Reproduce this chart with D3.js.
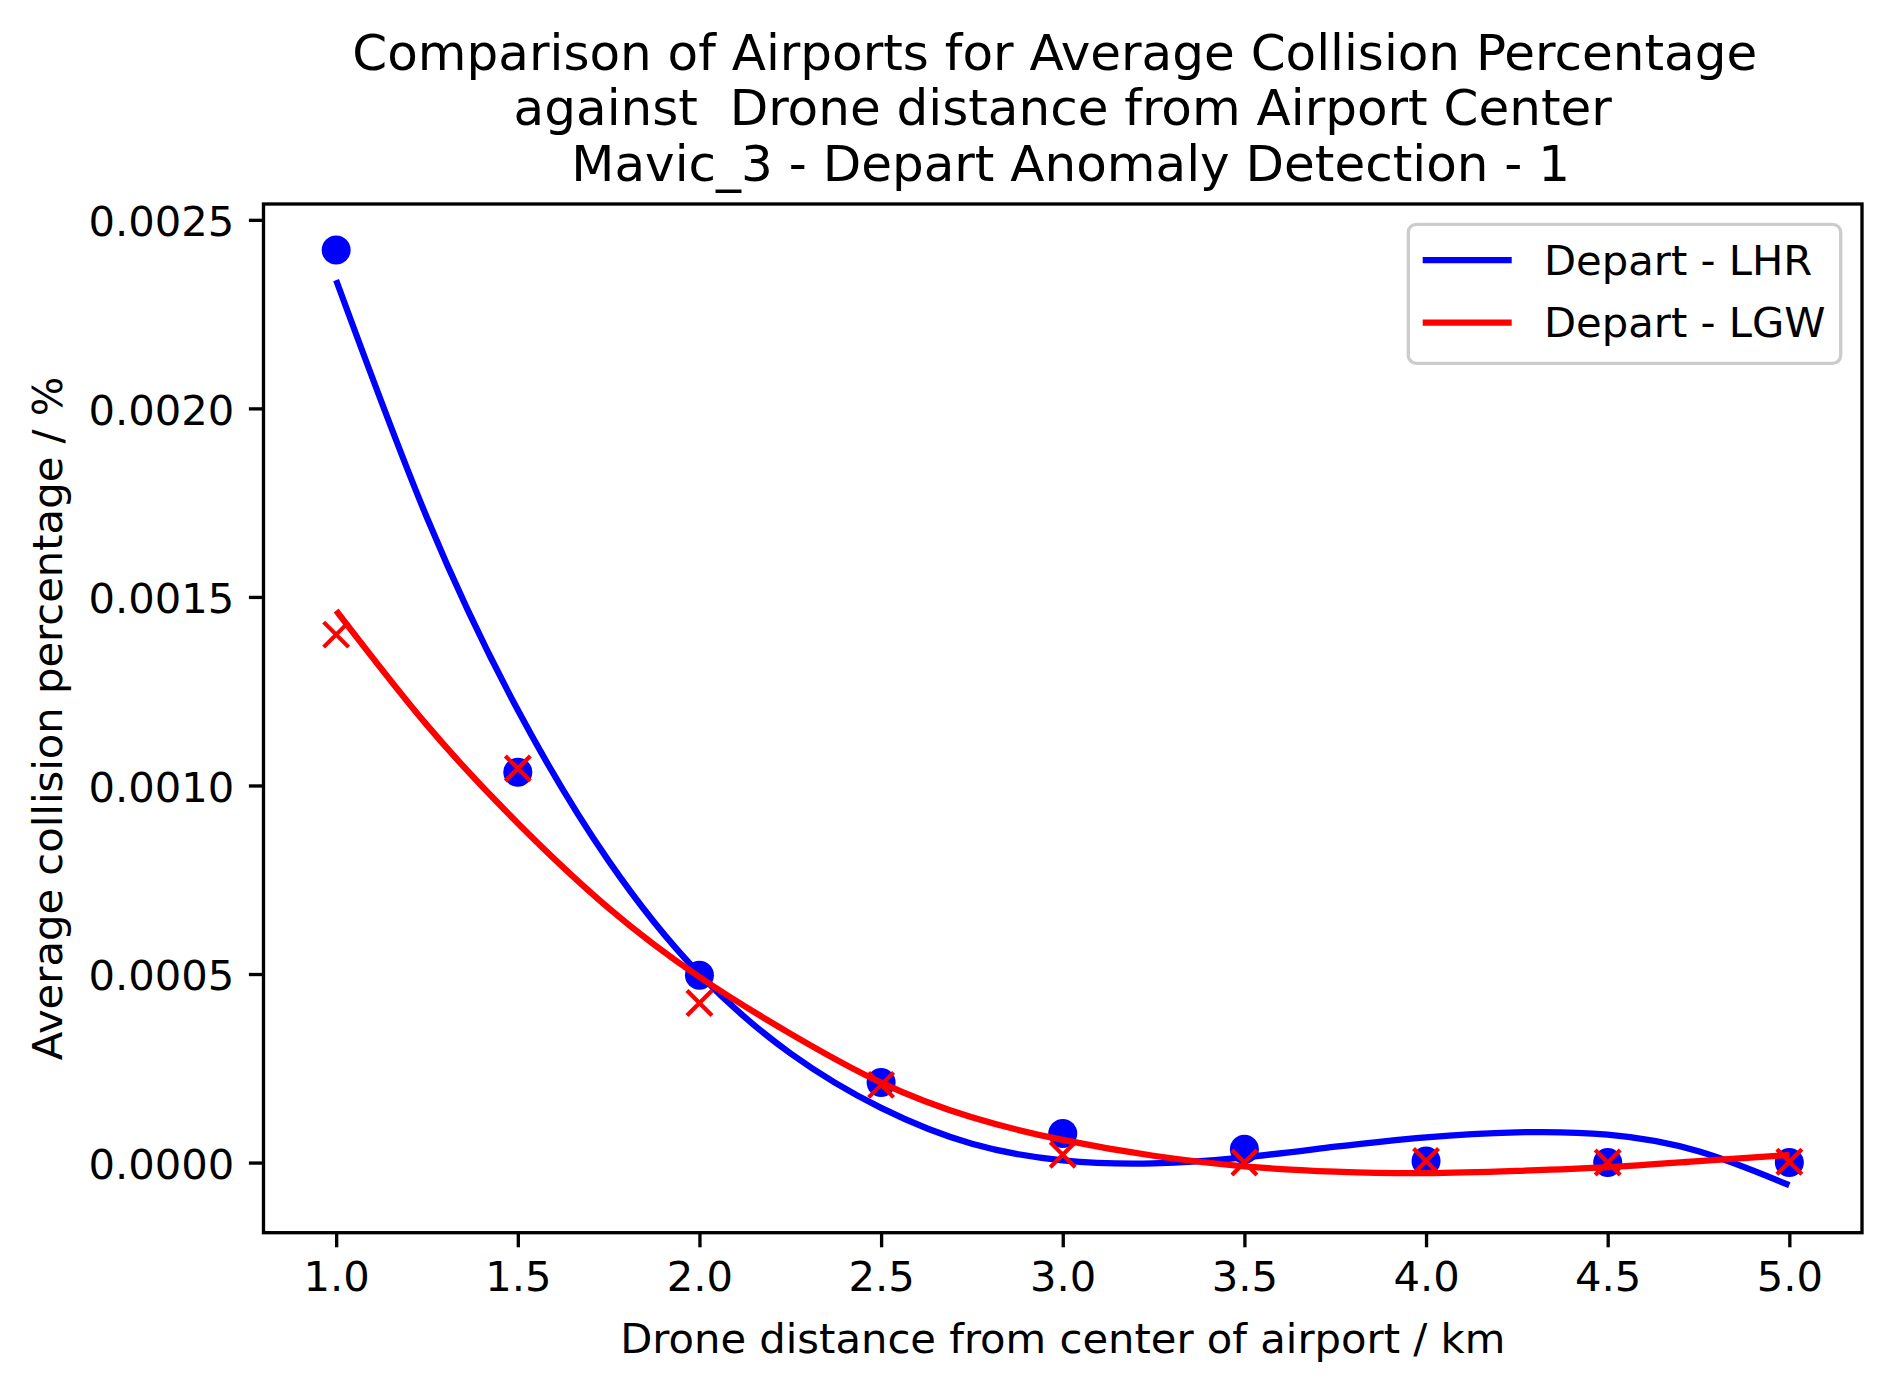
<!DOCTYPE html>
<html>
<head>
<meta charset="utf-8">
<script src="https://cdn.jsdelivr.net/npm/d3@7"></script>
<style>
  body { margin: 0; background: white; }
  text { font-family: 'DejaVu Sans', sans-serif; }
</style>
</head>
<body>
<svg id="app" width="1890" height="1392"></svg>
<script>
// measured points
const distances = [1.0, 1.5, 2.0, 2.5, 3.0, 3.5, 4.0, 4.5, 5.0]
const lhrPoints = [0.00242, 0.001035, 0.000497, 0.000212, 0.000077, 0.000035, 0.000004, 0.0, 0.0]
const lgwPoints = [0.00140, 0.001045, 0.000423, 0.000206, 0.000021, 0.0, 0.000004, 0.0, 0.000002]

// fitted curves, every 0.25 km
const fitDistances = [1.0, 1.25, 1.5, 1.75, 2.0, 2.25, 2.5, 2.75, 3.0, 3.25, 3.5, 3.75, 4.0, 4.25, 4.5, 4.75, 5.0]
const lhrFit = [0.00234, 0.00171, 0.00120, 0.00080, 0.00050, 0.00029, 0.000145, 0.00005, 0.000006, -0.000002, 0.000014, 0.000042, 0.000067, 0.00008, 0.000074, 0.00003, -0.00006]
const lgwFit = [0.001464, 0.00116, 0.00090, 0.000675, 0.000492, 0.000342, 0.000212, 0.00012, 0.00006, 0.000018, -0.00001, -0.000024, -0.000028, -0.000022, -0.000012, 0.000004, 0.00002]

const xTicks = [1.0, 1.5, 2.0, 2.5, 3.0, 3.5, 4.0, 4.5, 5.0]
const yTicks = [0, 0.0005, 0.001, 0.0015, 0.002, 0.0025]

const titleLines = [
  'Comparison of Airports for Average Collision Percentage ',
  'against  Drone distance from Airport Center',
  ' Mavic_3 - Depart Anomaly Detection - 1',
]
const legendNames = ['Depart - LHR', 'Depart - LGW']

const blue = '#0000ff'
const red = '#ff0000'
const fontPx = 41.7
const lw = 6.25
const spineW = 3.33

const plotL = 263.5, plotR = 1862, plotT = 204, plotB = 1232.7

let svg = d3.select('#app')

let x = d3.scaleLinear().domain([0.8, 5.2]).range([plotL, plotR])
let y = d3.scaleLinear().domain([-0.000186, 0.002542]).range([plotB, plotT])

// axes
let xAxis = svg.append('g')
.attr('transform', `translate(0,${plotB})`)
.call(d3.axisBottom(x).tickValues(xTicks).tickFormat(d3.format('.1f')).tickSize(14.6).tickSizeOuter(0).tickPadding(14.6))

let yAxis = svg.append('g')
.attr('transform', `translate(${plotL},0)`)
.call(d3.axisLeft(y).tickValues(yTicks).tickFormat(d3.format('.4f')).tickSize(14.6).tickSizeOuter(0).tickPadding(14.6))

svg.selectAll('.domain').remove()
svg.selectAll('.tick line').attr('stroke', 'black').attr('stroke-width', spineW)
svg.selectAll('.tick text')
.attr('font-family', "'DejaVu Sans', sans-serif")
.attr('font-size', fontPx)
.attr('fill', 'black')
yAxis.selectAll('.tick text').attr('dy', '0.38em')

// data layers
let clip = svg.append('defs').append('clipPath').attr('id', 'plotClip')
clip.append('rect').attr('x', plotL).attr('y', plotT).attr('width', plotR - plotL).attr('height', plotB - plotT)

let plotG = svg.append('g').attr('clip-path', 'url(#plotClip)')

let line = d3.line()
.x(d => x(d[0]))
.y(d => y(d[1]))
.curve(d3.curveNatural)

plotG.append('g')
.selectAll('circle')
.data(distances.map((d, i) => [d, lhrPoints[i]]))
.enter()
.append('circle')
.attr('cx', d => x(d[0]))
.attr('cy', d => y(d[1]))
.attr('r', 14.5)
.attr('fill', blue)

plotG.append('path')
.datum(fitDistances.map((d, i) => [d, lhrFit[i]]))
.attr('d', line)
.attr('fill', 'none')
.attr('stroke', blue)
.attr('stroke-width', lw)

const xs = 12.5
plotG.append('g')
.selectAll('path')
.data(distances.map((d, i) => [d, lgwPoints[i]]))
.enter()
.append('path')
.attr('d', d => {
  const cx = x(d[0]), cy = y(d[1])
  return `M${cx - xs},${cy - xs}L${cx + xs},${cy + xs}M${cx - xs},${cy + xs}L${cx + xs},${cy - xs}`
})
.attr('stroke', red)
.attr('stroke-width', 4.2)
.attr('fill', 'none')

plotG.append('path')
.datum(fitDistances.map((d, i) => [d, lgwFit[i]]))
.attr('d', line)
.attr('fill', 'none')
.attr('stroke', red)
.attr('stroke-width', lw)

// frame
svg.append('rect')
.attr('x', plotL)
.attr('y', plotT)
.attr('width', plotR - plotL)
.attr('height', plotB - plotT)
.attr('fill', 'none')
.attr('stroke', 'black')
.attr('stroke-width', spineW)

// title
svg.append('g')
.selectAll('text')
.data(titleLines)
.enter()
.append('text')
.attr('x', (plotL + plotR) / 2)
.attr('y', (d, i) => 70 + i * 55.3)
.attr('text-anchor', 'middle')
.attr('font-size', 50)
.style('white-space', 'pre')
.text(d => d)

// axis labels
svg.append('text')
.attr('x', (plotL + plotR) / 2)
.attr('y', 1353)
.attr('text-anchor', 'middle')
.attr('font-size', fontPx)
.text('Drone distance from center of airport / km')

svg.append('text')
.attr('transform', `translate(62,${(plotT + plotB) / 2}) rotate(-90)`)
.attr('text-anchor', 'middle')
.attr('font-size', fontPx)
.text('Average collision percentage / %')

// legend
let legendG = svg.append('g')
legendG.append('rect')
.attr('x', 1408.3)
.attr('y', 224.3)
.attr('width', 432.4)
.attr('height', 139)
.attr('rx', 8)
.attr('fill', 'white')
.attr('fill-opacity', 0.8)
.attr('stroke', '#cccccc')
.attr('stroke-width', spineW)

legendG.selectAll('line')
.data(legendNames)
.enter()
.append('line')
.attr('x1', 1422.7)
.attr('x2', 1511.7)
.attr('y1', (d, i) => 260 + i * 62.7)
.attr('y2', (d, i) => 260 + i * 62.7)
.attr('stroke', (d, i) => i === 0 ? blue : red)
.attr('stroke-width', lw)

legendG.selectAll('text')
.data(legendNames)
.enter()
.append('text')
.attr('x', 1544)
.attr('y', (d, i) => 274.5 + i * 62.7)
.attr('font-size', fontPx)
.text(d => d)
</script>
</body>
</html>
